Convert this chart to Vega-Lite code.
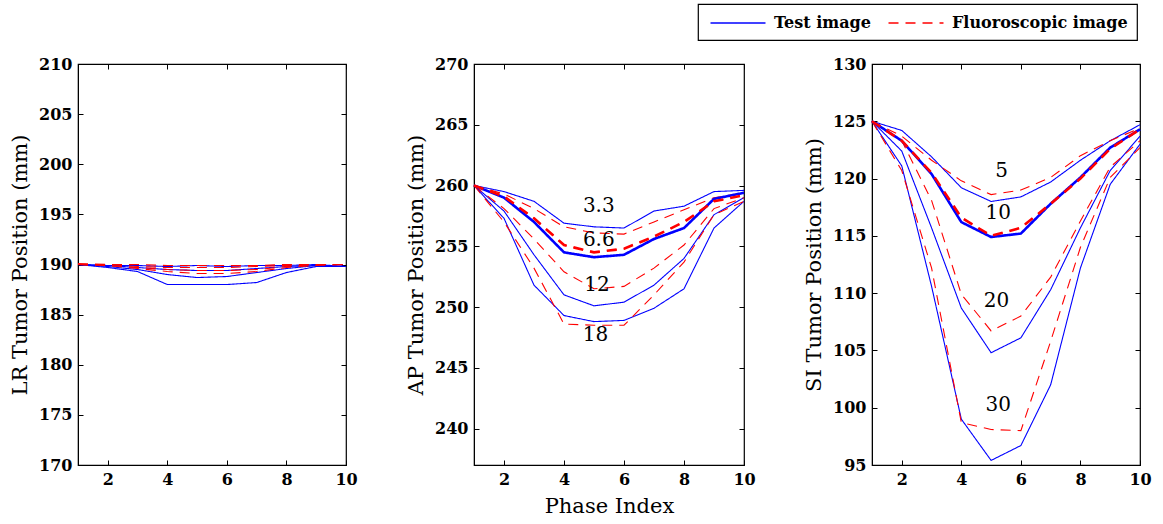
{
"$schema": "https://vega.github.io/schema/vega-lite/v6.json",
"background": "white",
"padding": {"left": 9, "top": 3, "right": 5, "bottom": 5},
"bounds": "flush",
"spacing": 128,
"datasets": {
"lines": [
{"panel":"LR","image":"Test image","amp":"LR1","phase":1,"pos":190},{"panel":"LR","image":"Test image","amp":"LR1","phase":2,"pos":189.7},{"panel":"LR","image":"Test image","amp":"LR1","phase":3,"pos":189.3},{"panel":"LR","image":"Test image","amp":"LR1","phase":4,"pos":188.0},{"panel":"LR","image":"Test image","amp":"LR1","phase":5,"pos":188.0},{"panel":"LR","image":"Test image","amp":"LR1","phase":6,"pos":188.0},{"panel":"LR","image":"Test image","amp":"LR1","phase":7,"pos":188.2},{"panel":"LR","image":"Test image","amp":"LR1","phase":8,"pos":189.2},{"panel":"LR","image":"Test image","amp":"LR1","phase":9,"pos":189.8},{"panel":"LR","image":"Test image","amp":"LR1","phase":10,"pos":189.8},
{"panel":"LR","image":"Test image","amp":"LR2","phase":1,"pos":190},{"panel":"LR","image":"Test image","amp":"LR2","phase":2,"pos":189.8},{"panel":"LR","image":"Test image","amp":"LR2","phase":3,"pos":189.5},{"panel":"LR","image":"Test image","amp":"LR2","phase":4,"pos":189.0},{"panel":"LR","image":"Test image","amp":"LR2","phase":5,"pos":188.7},{"panel":"LR","image":"Test image","amp":"LR2","phase":6,"pos":188.8},{"panel":"LR","image":"Test image","amp":"LR2","phase":7,"pos":189.2},{"panel":"LR","image":"Test image","amp":"LR2","phase":8,"pos":189.6},{"panel":"LR","image":"Test image","amp":"LR2","phase":9,"pos":189.9},{"panel":"LR","image":"Test image","amp":"LR2","phase":10,"pos":189.8},
{"panel":"LR","image":"Test image","amp":"LR3","phase":1,"pos":190},{"panel":"LR","image":"Test image","amp":"LR3","phase":2,"pos":189.9},{"panel":"LR","image":"Test image","amp":"LR3","phase":3,"pos":189.7},{"panel":"LR","image":"Test image","amp":"LR3","phase":4,"pos":189.5},{"panel":"LR","image":"Test image","amp":"LR3","phase":5,"pos":189.4},{"panel":"LR","image":"Test image","amp":"LR3","phase":6,"pos":189.4},{"panel":"LR","image":"Test image","amp":"LR3","phase":7,"pos":189.6},{"panel":"LR","image":"Test image","amp":"LR3","phase":8,"pos":189.8},{"panel":"LR","image":"Test image","amp":"LR3","phase":9,"pos":189.9},{"panel":"LR","image":"Test image","amp":"LR3","phase":10,"pos":189.8},
{"panel":"LR","image":"Test image","amp":"LR4","phase":1,"pos":190},{"panel":"LR","image":"Test image","amp":"LR4","phase":2,"pos":189.9},{"panel":"LR","image":"Test image","amp":"LR4","phase":3,"pos":189.9},{"panel":"LR","image":"Test image","amp":"LR4","phase":4,"pos":189.8},{"panel":"LR","image":"Test image","amp":"LR4","phase":5,"pos":189.9},{"panel":"LR","image":"Test image","amp":"LR4","phase":6,"pos":189.8},{"panel":"LR","image":"Test image","amp":"LR4","phase":7,"pos":189.9},{"panel":"LR","image":"Test image","amp":"LR4","phase":8,"pos":189.9},{"panel":"LR","image":"Test image","amp":"LR4","phase":9,"pos":190.0},{"panel":"LR","image":"Test image","amp":"LR4","phase":10,"pos":189.8},
{"panel":"LR","image":"Fluoroscopic image","amp":"LR1","phase":1,"pos":190},{"panel":"LR","image":"Fluoroscopic image","amp":"LR1","phase":2,"pos":189.9},{"panel":"LR","image":"Fluoroscopic image","amp":"LR1","phase":3,"pos":189.6},{"panel":"LR","image":"Fluoroscopic image","amp":"LR1","phase":4,"pos":189.3},{"panel":"LR","image":"Fluoroscopic image","amp":"LR1","phase":5,"pos":189.1},{"panel":"LR","image":"Fluoroscopic image","amp":"LR1","phase":6,"pos":189.1},{"panel":"LR","image":"Fluoroscopic image","amp":"LR1","phase":7,"pos":189.3},{"panel":"LR","image":"Fluoroscopic image","amp":"LR1","phase":8,"pos":189.7},{"panel":"LR","image":"Fluoroscopic image","amp":"LR1","phase":9,"pos":189.9},{"panel":"LR","image":"Fluoroscopic image","amp":"LR1","phase":10,"pos":190.0},
{"panel":"LR","image":"Fluoroscopic image","amp":"LR2","phase":1,"pos":190},{"panel":"LR","image":"Fluoroscopic image","amp":"LR2","phase":2,"pos":189.9},{"panel":"LR","image":"Fluoroscopic image","amp":"LR2","phase":3,"pos":189.7},{"panel":"LR","image":"Fluoroscopic image","amp":"LR2","phase":4,"pos":189.5},{"panel":"LR","image":"Fluoroscopic image","amp":"LR2","phase":5,"pos":189.4},{"panel":"LR","image":"Fluoroscopic image","amp":"LR2","phase":6,"pos":189.4},{"panel":"LR","image":"Fluoroscopic image","amp":"LR2","phase":7,"pos":189.5},{"panel":"LR","image":"Fluoroscopic image","amp":"LR2","phase":8,"pos":189.8},{"panel":"LR","image":"Fluoroscopic image","amp":"LR2","phase":9,"pos":190.0},{"panel":"LR","image":"Fluoroscopic image","amp":"LR2","phase":10,"pos":190.0},
{"panel":"LR","image":"Fluoroscopic image","amp":"LR3","phase":1,"pos":190},{"panel":"LR","image":"Fluoroscopic image","amp":"LR3","phase":2,"pos":190.0},{"panel":"LR","image":"Fluoroscopic image","amp":"LR3","phase":3,"pos":189.8},{"panel":"LR","image":"Fluoroscopic image","amp":"LR3","phase":4,"pos":189.7},{"panel":"LR","image":"Fluoroscopic image","amp":"LR3","phase":5,"pos":189.7},{"panel":"LR","image":"Fluoroscopic image","amp":"LR3","phase":6,"pos":189.7},{"panel":"LR","image":"Fluoroscopic image","amp":"LR3","phase":7,"pos":189.8},{"panel":"LR","image":"Fluoroscopic image","amp":"LR3","phase":8,"pos":189.9},{"panel":"LR","image":"Fluoroscopic image","amp":"LR3","phase":9,"pos":190.0},{"panel":"LR","image":"Fluoroscopic image","amp":"LR3","phase":10,"pos":190.0},
{"panel":"LR","image":"Fluoroscopic image","amp":"LR4","phase":1,"pos":190.1},{"panel":"LR","image":"Fluoroscopic image","amp":"LR4","phase":2,"pos":190.0},{"panel":"LR","image":"Fluoroscopic image","amp":"LR4","phase":3,"pos":190.0},{"panel":"LR","image":"Fluoroscopic image","amp":"LR4","phase":4,"pos":189.9},{"panel":"LR","image":"Fluoroscopic image","amp":"LR4","phase":5,"pos":189.9},{"panel":"LR","image":"Fluoroscopic image","amp":"LR4","phase":6,"pos":189.9},{"panel":"LR","image":"Fluoroscopic image","amp":"LR4","phase":7,"pos":189.9},{"panel":"LR","image":"Fluoroscopic image","amp":"LR4","phase":8,"pos":190.0},{"panel":"LR","image":"Fluoroscopic image","amp":"LR4","phase":9,"pos":190.0},{"panel":"LR","image":"Fluoroscopic image","amp":"LR4","phase":10,"pos":190.0},

{"panel":"AP","image":"Test image","amp":"3.3","phase":1,"pos":260},{"panel":"AP","image":"Test image","amp":"3.3","phase":2,"pos":259.5},{"panel":"AP","image":"Test image","amp":"3.3","phase":3,"pos":258.7},{"panel":"AP","image":"Test image","amp":"3.3","phase":4,"pos":256.9},{"panel":"AP","image":"Test image","amp":"3.3","phase":5,"pos":256.6},{"panel":"AP","image":"Test image","amp":"3.3","phase":6,"pos":256.5},{"panel":"AP","image":"Test image","amp":"3.3","phase":7,"pos":257.9},{"panel":"AP","image":"Test image","amp":"3.3","phase":8,"pos":258.3},{"panel":"AP","image":"Test image","amp":"3.3","phase":9,"pos":259.5},{"panel":"AP","image":"Test image","amp":"3.3","phase":10,"pos":259.6},
{"panel":"AP","image":"Fluoroscopic image","amp":"3.3","phase":1,"pos":260},{"panel":"AP","image":"Fluoroscopic image","amp":"3.3","phase":2,"pos":259.3},{"panel":"AP","image":"Fluoroscopic image","amp":"3.3","phase":3,"pos":258.1},{"panel":"AP","image":"Fluoroscopic image","amp":"3.3","phase":4,"pos":256.6},{"panel":"AP","image":"Fluoroscopic image","amp":"3.3","phase":5,"pos":256.1},{"panel":"AP","image":"Fluoroscopic image","amp":"3.3","phase":6,"pos":256.0},{"panel":"AP","image":"Fluoroscopic image","amp":"3.3","phase":7,"pos":257.0},{"panel":"AP","image":"Fluoroscopic image","amp":"3.3","phase":8,"pos":258.0},{"panel":"AP","image":"Fluoroscopic image","amp":"3.3","phase":9,"pos":259.0},{"panel":"AP","image":"Fluoroscopic image","amp":"3.3","phase":10,"pos":259.4},
{"panel":"AP","image":"Test image","amp":"6.6","phase":1,"pos":260},{"panel":"AP","image":"Test image","amp":"6.6","phase":2,"pos":259.0},{"panel":"AP","image":"Test image","amp":"6.6","phase":3,"pos":257.0},{"panel":"AP","image":"Test image","amp":"6.6","phase":4,"pos":254.5},{"panel":"AP","image":"Test image","amp":"6.6","phase":5,"pos":254.1},{"panel":"AP","image":"Test image","amp":"6.6","phase":6,"pos":254.3},{"panel":"AP","image":"Test image","amp":"6.6","phase":7,"pos":255.6},{"panel":"AP","image":"Test image","amp":"6.6","phase":8,"pos":256.5},{"panel":"AP","image":"Test image","amp":"6.6","phase":9,"pos":258.9},{"panel":"AP","image":"Test image","amp":"6.6","phase":10,"pos":259.4},
{"panel":"AP","image":"Fluoroscopic image","amp":"6.6","phase":1,"pos":260},{"panel":"AP","image":"Fluoroscopic image","amp":"6.6","phase":2,"pos":259.1},{"panel":"AP","image":"Fluoroscopic image","amp":"6.6","phase":3,"pos":257.3},{"panel":"AP","image":"Fluoroscopic image","amp":"6.6","phase":4,"pos":255.1},{"panel":"AP","image":"Fluoroscopic image","amp":"6.6","phase":5,"pos":254.5},{"panel":"AP","image":"Fluoroscopic image","amp":"6.6","phase":6,"pos":254.8},{"panel":"AP","image":"Fluoroscopic image","amp":"6.6","phase":7,"pos":255.8},{"panel":"AP","image":"Fluoroscopic image","amp":"6.6","phase":8,"pos":257.0},{"panel":"AP","image":"Fluoroscopic image","amp":"6.6","phase":9,"pos":258.7},{"panel":"AP","image":"Fluoroscopic image","amp":"6.6","phase":10,"pos":259.2},
{"panel":"AP","image":"Test image","amp":"12","phase":1,"pos":260},{"panel":"AP","image":"Test image","amp":"12","phase":2,"pos":257.9},{"panel":"AP","image":"Test image","amp":"12","phase":3,"pos":254.3},{"panel":"AP","image":"Test image","amp":"12","phase":4,"pos":251.0},{"panel":"AP","image":"Test image","amp":"12","phase":5,"pos":250.1},{"panel":"AP","image":"Test image","amp":"12","phase":6,"pos":250.4},{"panel":"AP","image":"Test image","amp":"12","phase":7,"pos":251.8},{"panel":"AP","image":"Test image","amp":"12","phase":8,"pos":254.0},{"panel":"AP","image":"Test image","amp":"12","phase":9,"pos":257.6},{"panel":"AP","image":"Test image","amp":"12","phase":10,"pos":259.0},
{"panel":"AP","image":"Fluoroscopic image","amp":"12","phase":1,"pos":260},{"panel":"AP","image":"Fluoroscopic image","amp":"12","phase":2,"pos":258.1},{"panel":"AP","image":"Fluoroscopic image","amp":"12","phase":3,"pos":255.6},{"panel":"AP","image":"Fluoroscopic image","amp":"12","phase":4,"pos":252.9},{"panel":"AP","image":"Fluoroscopic image","amp":"12","phase":5,"pos":251.5},{"panel":"AP","image":"Fluoroscopic image","amp":"12","phase":6,"pos":251.7},{"panel":"AP","image":"Fluoroscopic image","amp":"12","phase":7,"pos":253.2},{"panel":"AP","image":"Fluoroscopic image","amp":"12","phase":8,"pos":255.1},{"panel":"AP","image":"Fluoroscopic image","amp":"12","phase":9,"pos":258.1},{"panel":"AP","image":"Fluoroscopic image","amp":"12","phase":10,"pos":259.0},
{"panel":"AP","image":"Test image","amp":"18","phase":1,"pos":260},{"panel":"AP","image":"Test image","amp":"18","phase":2,"pos":257.3},{"panel":"AP","image":"Test image","amp":"18","phase":3,"pos":251.8},{"panel":"AP","image":"Test image","amp":"18","phase":4,"pos":249.3},{"panel":"AP","image":"Test image","amp":"18","phase":5,"pos":248.8},{"panel":"AP","image":"Test image","amp":"18","phase":6,"pos":248.9},{"panel":"AP","image":"Test image","amp":"18","phase":7,"pos":249.9},{"panel":"AP","image":"Test image","amp":"18","phase":8,"pos":251.5},{"panel":"AP","image":"Test image","amp":"18","phase":9,"pos":256.5},{"panel":"AP","image":"Test image","amp":"18","phase":10,"pos":258.7},
{"panel":"AP","image":"Fluoroscopic image","amp":"18","phase":1,"pos":260},{"panel":"AP","image":"Fluoroscopic image","amp":"18","phase":2,"pos":257.0},{"panel":"AP","image":"Fluoroscopic image","amp":"18","phase":3,"pos":253.2},{"panel":"AP","image":"Fluoroscopic image","amp":"18","phase":4,"pos":248.6},{"panel":"AP","image":"Fluoroscopic image","amp":"18","phase":5,"pos":248.5},{"panel":"AP","image":"Fluoroscopic image","amp":"18","phase":6,"pos":248.5},{"panel":"AP","image":"Fluoroscopic image","amp":"18","phase":7,"pos":251.0},{"panel":"AP","image":"Fluoroscopic image","amp":"18","phase":8,"pos":253.7},{"panel":"AP","image":"Fluoroscopic image","amp":"18","phase":9,"pos":257.6},{"panel":"AP","image":"Fluoroscopic image","amp":"18","phase":10,"pos":258.7},

{"panel":"SI","image":"Test image","amp":"5","phase":1,"pos":125},{"panel":"SI","image":"Test image","amp":"5","phase":2,"pos":124.2},{"panel":"SI","image":"Test image","amp":"5","phase":3,"pos":121.9},{"panel":"SI","image":"Test image","amp":"5","phase":4,"pos":119.2},{"panel":"SI","image":"Test image","amp":"5","phase":5,"pos":118.0},{"panel":"SI","image":"Test image","amp":"5","phase":6,"pos":118.4},{"panel":"SI","image":"Test image","amp":"5","phase":7,"pos":119.7},{"panel":"SI","image":"Test image","amp":"5","phase":8,"pos":121.6},{"panel":"SI","image":"Test image","amp":"5","phase":9,"pos":123.3},{"panel":"SI","image":"Test image","amp":"5","phase":10,"pos":124.7},
{"panel":"SI","image":"Fluoroscopic image","amp":"5","phase":1,"pos":125},{"panel":"SI","image":"Fluoroscopic image","amp":"5","phase":2,"pos":123.7},{"panel":"SI","image":"Fluoroscopic image","amp":"5","phase":3,"pos":121.6},{"panel":"SI","image":"Fluoroscopic image","amp":"5","phase":4,"pos":119.8},{"panel":"SI","image":"Fluoroscopic image","amp":"5","phase":5,"pos":118.6},{"panel":"SI","image":"Fluoroscopic image","amp":"5","phase":6,"pos":119.0},{"panel":"SI","image":"Fluoroscopic image","amp":"5","phase":7,"pos":120.1},{"panel":"SI","image":"Fluoroscopic image","amp":"5","phase":8,"pos":122.0},{"panel":"SI","image":"Fluoroscopic image","amp":"5","phase":9,"pos":123.3},{"panel":"SI","image":"Fluoroscopic image","amp":"5","phase":10,"pos":124.4},
{"panel":"SI","image":"Test image","amp":"10","phase":1,"pos":125},{"panel":"SI","image":"Test image","amp":"10","phase":2,"pos":123.3},{"panel":"SI","image":"Test image","amp":"10","phase":3,"pos":120.4},{"panel":"SI","image":"Test image","amp":"10","phase":4,"pos":116.2},{"panel":"SI","image":"Test image","amp":"10","phase":5,"pos":114.9},{"panel":"SI","image":"Test image","amp":"10","phase":6,"pos":115.2},{"panel":"SI","image":"Test image","amp":"10","phase":7,"pos":117.8},{"panel":"SI","image":"Test image","amp":"10","phase":8,"pos":120.1},{"panel":"SI","image":"Test image","amp":"10","phase":9,"pos":122.7},{"panel":"SI","image":"Test image","amp":"10","phase":10,"pos":124.3},
{"panel":"SI","image":"Fluoroscopic image","amp":"10","phase":1,"pos":125},{"panel":"SI","image":"Fluoroscopic image","amp":"10","phase":2,"pos":123.3},{"panel":"SI","image":"Fluoroscopic image","amp":"10","phase":3,"pos":120.5},{"panel":"SI","image":"Fluoroscopic image","amp":"10","phase":4,"pos":116.6},{"panel":"SI","image":"Fluoroscopic image","amp":"10","phase":5,"pos":115.0},{"panel":"SI","image":"Fluoroscopic image","amp":"10","phase":6,"pos":115.7},{"panel":"SI","image":"Fluoroscopic image","amp":"10","phase":7,"pos":117.8},{"panel":"SI","image":"Fluoroscopic image","amp":"10","phase":8,"pos":120.0},{"panel":"SI","image":"Fluoroscopic image","amp":"10","phase":9,"pos":122.6},{"panel":"SI","image":"Fluoroscopic image","amp":"10","phase":10,"pos":124.3},
{"panel":"SI","image":"Test image","amp":"20","phase":1,"pos":125},{"panel":"SI","image":"Test image","amp":"20","phase":2,"pos":122.4},{"panel":"SI","image":"Test image","amp":"20","phase":3,"pos":115.7},{"panel":"SI","image":"Test image","amp":"20","phase":4,"pos":108.7},{"panel":"SI","image":"Test image","amp":"20","phase":5,"pos":104.8},{"panel":"SI","image":"Test image","amp":"20","phase":6,"pos":106.1},{"panel":"SI","image":"Test image","amp":"20","phase":7,"pos":110.3},{"panel":"SI","image":"Test image","amp":"20","phase":8,"pos":115.7},{"panel":"SI","image":"Test image","amp":"20","phase":9,"pos":120.7},{"panel":"SI","image":"Test image","amp":"20","phase":10,"pos":123.7},
{"panel":"SI","image":"Fluoroscopic image","amp":"20","phase":1,"pos":125},{"panel":"SI","image":"Fluoroscopic image","amp":"20","phase":2,"pos":123.3},{"panel":"SI","image":"Fluoroscopic image","amp":"20","phase":3,"pos":118.1},{"panel":"SI","image":"Fluoroscopic image","amp":"20","phase":4,"pos":109.9},{"panel":"SI","image":"Fluoroscopic image","amp":"20","phase":5,"pos":106.7},{"panel":"SI","image":"Fluoroscopic image","amp":"20","phase":6,"pos":108.0},{"panel":"SI","image":"Fluoroscopic image","amp":"20","phase":7,"pos":111.4},{"panel":"SI","image":"Fluoroscopic image","amp":"20","phase":8,"pos":116.3},{"panel":"SI","image":"Fluoroscopic image","amp":"20","phase":9,"pos":121.0},{"panel":"SI","image":"Fluoroscopic image","amp":"20","phase":10,"pos":123.3},
{"panel":"SI","image":"Test image","amp":"30","phase":1,"pos":125},{"panel":"SI","image":"Test image","amp":"30","phase":2,"pos":121.1},{"panel":"SI","image":"Test image","amp":"30","phase":3,"pos":110.6},{"panel":"SI","image":"Test image","amp":"30","phase":4,"pos":99.0},{"panel":"SI","image":"Test image","amp":"30","phase":5,"pos":95.4},{"panel":"SI","image":"Test image","amp":"30","phase":6,"pos":96.7},{"panel":"SI","image":"Test image","amp":"30","phase":7,"pos":102.0},{"panel":"SI","image":"Test image","amp":"30","phase":8,"pos":112.2},{"panel":"SI","image":"Test image","amp":"30","phase":9,"pos":119.5},{"panel":"SI","image":"Test image","amp":"30","phase":10,"pos":123.0},
{"panel":"SI","image":"Fluoroscopic image","amp":"30","phase":1,"pos":125},{"panel":"SI","image":"Fluoroscopic image","amp":"30","phase":2,"pos":120.7},{"panel":"SI","image":"Fluoroscopic image","amp":"30","phase":3,"pos":112.2},{"panel":"SI","image":"Fluoroscopic image","amp":"30","phase":4,"pos":98.7},{"panel":"SI","image":"Fluoroscopic image","amp":"30","phase":5,"pos":98.1},{"panel":"SI","image":"Fluoroscopic image","amp":"30","phase":6,"pos":98.0},{"panel":"SI","image":"Fluoroscopic image","amp":"30","phase":7,"pos":105.8},{"panel":"SI","image":"Fluoroscopic image","amp":"30","phase":8,"pos":114.0},{"panel":"SI","image":"Fluoroscopic image","amp":"30","phase":9,"pos":120.1},{"panel":"SI","image":"Fluoroscopic image","amp":"30","phase":10,"pos":122.7}
],
"labels": [
{"panel":"AP","phase":5.16,"pos":258.3,"label":"3.3"},
{"panel":"AP","phase":5.16,"pos":255.5,"label":"6.6"},
{"panel":"AP","phase":5.1,"pos":251.8,"label":"12"},
{"panel":"AP","phase":5.05,"pos":247.7,"label":"18"},
{"panel":"SI","phase":5.35,"pos":120.7,"label":"5"},
{"panel":"SI","phase":5.24,"pos":117.0,"label":"10"},
{"panel":"SI","phase":5.18,"pos":109.3,"label":"20"},
{"panel":"SI","phase":5.24,"pos":100.2,"label":"30"}
]
},
"hconcat": [
{
"width": 268, "height": 401,
"layer": [
{"data": {"name": "lines"}, "transform": [{"filter": "datum.panel === 'LR'"}],
 "mark": {"type": "line", "strokeWidth": 1.1},
 "encoding": {
  "x": {"field": "phase", "type": "quantitative", "scale": {"domain": [1, 10], "nice": false, "zero": false}, "axis": {"orient": "bottom", "values": [2,4,6,8,10], "title": null}},
  "y": {"field": "pos", "type": "quantitative", "scale": {"domain": [170, 210], "nice": false, "zero": false}, "axis": {"orient": "left", "values": [170,175,180,185,190,195,200,205,210], "title": "LR Tumor Position (mm)"}},
  "color": {"field": "image", "type": "nominal", "scale": {"domain": ["Test image", "Fluoroscopic image"], "range": ["#0000ff", "#ff0000"]}, "legend": {"orient": "none", "legendX": 620, "legendY": -60, "direction": "horizontal", "title": null}},
  "strokeDash": {"field": "image", "type": "nominal", "scale": {"domain": ["Test image", "Fluoroscopic image"], "range": [[1, 0], [10, 7]]}, "legend": {"orient": "none", "legendX": 620, "legendY": -60, "direction": "horizontal", "title": null}},
  "detail": {"field": "amp"}
 }},
{"data": {"name": "labels"}, "transform": [{"filter": "datum.panel === 'LR'"}],
 "mark": {"type": "text", "font": "DejaVu Serif", "fontSize": 20, "color": "black"},
 "encoding": {
  "x": {"field": "phase", "type": "quantitative", "axis": {"orient": "top", "values": [2,4,6,8,10], "labels": false, "title": null, "domain": false}},
  "y": {"field": "pos", "type": "quantitative", "axis": {"orient": "right", "values": [170,175,180,185,190,195,200,205,210], "labels": false, "title": null, "domain": false}},
  "text": {"field": "label"}
 }}
],
"resolve": {"axis": {"x": "independent", "y": "independent"}}
},
{
"width": 270, "height": 401,
"layer": [
{"data": {"name": "lines"}, "transform": [{"filter": "datum.panel === 'AP'"}],
 "mark": {"type": "line", "strokeWidth": 1.1},
 "encoding": {
  "x": {"field": "phase", "type": "quantitative", "scale": {"domain": [1, 10], "nice": false, "zero": false}, "axis": {"orient": "bottom", "values": [2,4,6,8,10], "title": "Phase Index"}},
  "y": {"field": "pos", "type": "quantitative", "scale": {"domain": [237, 270], "nice": false, "zero": false}, "axis": {"orient": "left", "values": [240,245,250,255,260,265,270], "title": "AP Tumor Position (mm)"}},
  "color": {"field": "image", "type": "nominal"},
  "strokeDash": {"field": "image", "type": "nominal"},
  "detail": {"field": "amp"}
 }},
{"data": {"name": "lines"}, "transform": [{"filter": "datum.panel === 'AP' && datum.amp === '6.6'"}],
 "mark": {"type": "line", "strokeWidth": 2.6},
 "encoding": {
  "x": {"field": "phase", "type": "quantitative", "axis": null},
  "y": {"field": "pos", "type": "quantitative", "axis": null},
  "color": {"field": "image", "type": "nominal"},
  "strokeDash": {"field": "image", "type": "nominal"},
  "detail": {"field": "amp"}
 }},
{"data": {"name": "labels"}, "transform": [{"filter": "datum.panel === 'AP'"}],
 "mark": {"type": "text", "font": "DejaVu Serif", "fontSize": 20, "color": "black"},
 "encoding": {
  "x": {"field": "phase", "type": "quantitative", "axis": {"orient": "top", "values": [2,4,6,8,10], "labels": false, "title": null, "domain": false}},
  "y": {"field": "pos", "type": "quantitative", "axis": {"orient": "right", "values": [240,245,250,255,260,265,270], "labels": false, "title": null, "domain": false}},
  "text": {"field": "label"}
 }}
],
"resolve": {"axis": {"x": "independent", "y": "independent"}}
},
{
"width": 268, "height": 401,
"layer": [
{"data": {"name": "lines"}, "transform": [{"filter": "datum.panel === 'SI'"}],
 "mark": {"type": "line", "strokeWidth": 1.1},
 "encoding": {
  "x": {"field": "phase", "type": "quantitative", "scale": {"domain": [1, 10], "nice": false, "zero": false}, "axis": {"orient": "bottom", "values": [2,4,6,8,10], "title": null}},
  "y": {"field": "pos", "type": "quantitative", "scale": {"domain": [95, 130], "nice": false, "zero": false}, "axis": {"orient": "left", "values": [95,100,105,110,115,120,125,130], "title": "SI Tumor Position (mm)"}},
  "color": {"field": "image", "type": "nominal"},
  "strokeDash": {"field": "image", "type": "nominal"},
  "detail": {"field": "amp"}
 }},
{"data": {"name": "lines"}, "transform": [{"filter": "datum.panel === 'SI' && datum.amp === '10'"}],
 "mark": {"type": "line", "strokeWidth": 2.6},
 "encoding": {
  "x": {"field": "phase", "type": "quantitative", "axis": null},
  "y": {"field": "pos", "type": "quantitative", "axis": null},
  "color": {"field": "image", "type": "nominal"},
  "strokeDash": {"field": "image", "type": "nominal"},
  "detail": {"field": "amp"}
 }},
{"data": {"name": "labels"}, "transform": [{"filter": "datum.panel === 'SI'"}],
 "mark": {"type": "text", "font": "DejaVu Serif", "fontSize": 20, "color": "black"},
 "encoding": {
  "x": {"field": "phase", "type": "quantitative", "axis": {"orient": "top", "values": [2,4,6,8,10], "labels": false, "title": null, "domain": false}},
  "y": {"field": "pos", "type": "quantitative", "axis": {"orient": "right", "values": [95,100,105,110,115,120,125,130], "labels": false, "title": null, "domain": false}},
  "text": {"field": "label"}
 }}
],
"resolve": {"axis": {"x": "independent", "y": "independent"}}
}
],
"config": {
 "view": {"stroke": "#000000", "strokeWidth": 1.2},
 "axis": {"grid": false, "domainColor": "#000000", "tickColor": "#000000", "labelColor": "#000000", "titleColor": "#000000",
  "labelFont": "DejaVu Serif", "labelFontWeight": "bold", "labelFontSize": 16,
  "titleFont": "DejaVu Serif", "titleFontWeight": "normal", "titleFontSize": 21,
  "tickSize": -5, "labelPadding": 11, "titlePadding": 8, "labelFlush": false, "labelOverlap": false},
 "legend": {"strokeColor": "#000000", "strokeWidth": 1.2, "padding": 9, "labelFont": "DejaVu Serif", "labelFontWeight": "bold", "labelFontSize": 16, "labelColor": "#000000", "symbolType": "M-3,0H3", "symbolSize": 336, "symbolOffset": 21, "symbolStrokeWidth": 1.6, "columnPadding": 14, "labelOffset": 26, "labelLimit": 400, "fillColor": "white"}
}
}
